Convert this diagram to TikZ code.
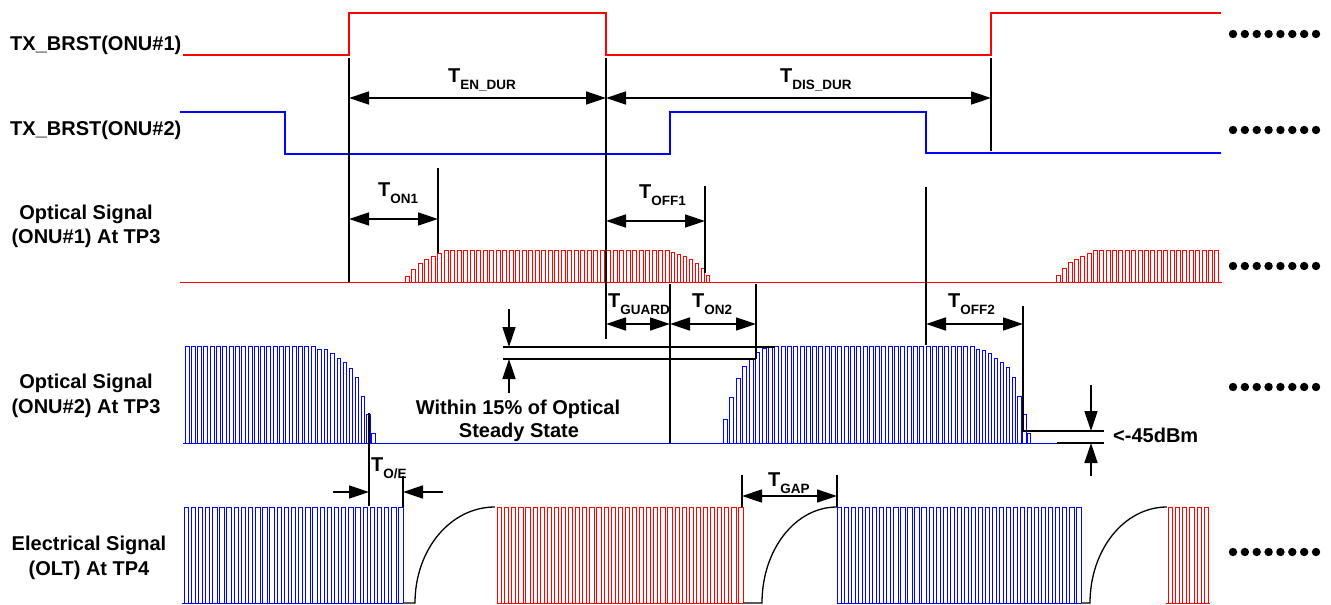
\documentclass[tikz,border=0pt]{standalone}
\usepackage{fontspec}
\setmainfont{Liberation Sans}
\usetikzlibrary{arrows.meta}
\newcommand\Tlab[1]{T\raisebox{-7pt}{\fontsize{13.5}{16}\selectfont #1}}
% uniform pulse train: style, base, top, x0, period, n, width
\newcommand\ptrain[7]{\draw[#1] \foreach \k in {1,...,#6} { ({#4+(\k-1)*#5},#2) -- ({#4+(\k-1)*#5},#3) -- ({#4+(\k-1)*#5+#7},#3) -- ({#4+(\k-1)*#5+#7},#2) };}
% pulse list: style, base, width, list x/top
\newcommand\plist[4]{\draw[#1] \foreach \px/\py in {#4} { (\px,#2) -- (\px,\py) -- ({\px+#3},\py) -- ({\px+#3},#2) };}
\begin{document}
\begin{tikzpicture}[x=1pt,y=-1pt,
  sig/.style={line width=1.6pt},
  pls/.style={line width=1pt},
  guide/.style={line width=1.5pt,black},
  dim/.style={line width=1.5pt,{Triangle[length=20pt,width=13pt]}-{Triangle[length=20pt,width=13pt]}},
  tipa/.style={line width=1.5pt,-{Triangle[length=20pt,width=13pt]}},
  lab/.style={font=\fontsize{20}{24}\selectfont\bfseries, inner sep=0pt},
]
\useasboundingbox (0,0) rectangle (1331,605);

% ---------- row labels ----------
\node[lab,anchor=base west] (l1) at (10,50) {TX\_BRST(ONU\#1)};
\node[lab,anchor=base west] (l2) at (10,135) {TX\_BRST(ONU\#2)};
\node[lab,anchor=base] (l3a) at (86,219) {Optical Signal};
\node[lab,anchor=base] (l3b) at (86,243) {(ONU\#1) At TP3};
\node[lab,anchor=base] (l4a) at (86,388) {Optical Signal};
\node[lab,anchor=base] (l4b) at (86,413) {(ONU\#2) At TP3};
\node[lab,anchor=base] (l5a) at (89,550) {Electrical Signal};
\node[lab,anchor=base] (l5b) at (89,575) {(OLT) At TP4};

% ---------- TX_BRST signals ----------
\draw[sig,red] (183,55) -- (349,55) -- (349,13) -- (606,13) -- (606,55) -- (991,55) -- (991,13) -- (1221,13);
\draw[sig,blue] (180,112) -- (285,112) -- (285,154) -- (670,154) -- (670,112) -- (926,112) -- (926,153) -- (1221,153);

% ---------- optical ONU#1 (red) ----------
\draw[pls,red] (180,282) -- (1222,282);
\plist{pls,red}{282}{4}{405/276,411.5/269,418/263,424.5/259,431/256,437.5/253}
\ptrain{pls,red}{282}{250}{444}{6.5}{35}{4}
\plist{pls,red}{282}{3.6}{671/252,677/254,683/256,689/259,695/263,701/268,706/275}
\plist{pls,red}{282}{4}{1056/275,1062.2/268,1068.4/262,1074.6/259,1080.8/256,1087/253}
\ptrain{pls,red}{282}{250}{1093.2}{6.4}{20}{4}

% ---------- optical ONU#2 (blue) ----------
\draw[pls,blue] (183,443) -- (1060,443);
\ptrain{pls,blue}{443}{346}{185}{6.3}{21}{4}
\plist{pls,blue}{443}{3.5}{317.5/349,324/349,330.5/353,337/358,343/362,349/368,355/377,361/396,366.5/414,371.5/433}
\plist{pls,blue}{443}{4}{723/419,729.5/397,736/378,742.5/366,749/359,755.5/352,762/348}
\ptrain{pls,blue}{443}{346}{768.5}{6.3}{33}{4}
\plist{pls,blue}{443}{3.5}{976/349,982/350,988/353,994/358,1000/362,1006/367,1012/377,1017.5/396,1022.5/414,1027/433}

% ---------- electrical (OLT) ----------
\draw[pls,blue] (182,603) -- (403,603);
\ptrain{pls,blue}{603}{507}{184}{7.16}{31}{4.4}
\draw[pls,red] (497,603) -- (743,603);
\ptrain{pls,red}{603}{507}{497.5}{7.1}{35}{4.2}
\draw[pls,blue] (837,603) -- (1081,603);
\ptrain{pls,blue}{603}{507}{837.5}{7.04}{35}{4.2}
\draw[pls,red] (1166,603) -- (1210,603);
\ptrain{pls,red}{603}{507}{1168}{7.3}{6}{4.2}
\draw[guide,line width=1.3pt] (403,603) -- (415,603) .. controls (415,550) and (450,507) .. (495,507);
\draw[guide,line width=1.3pt] (743,603) -- (762,603) .. controls (762,550) and (795,507) .. (837,507);
\draw[guide,line width=1.3pt] (1081,603) -- (1090,603) .. controls (1090,550) and (1124,507) .. (1167,507);

% ---------- guide lines ----------
\draw[guide] (349,58) -- (349,282);
\draw[guide] (606,58) -- (606,339);
\draw[guide] (991,58) -- (991,151);
\draw[guide] (438,168) -- (438,253);
\draw[guide] (705,186) -- (705,273);
\draw[guide] (670,284) -- (670,443);
\draw[guide] (756,284) -- (756,359);
\draw[guide] (926,187) -- (926,345);
\draw[guide] (1023,306) -- (1023,431) -- (1104,431);
\draw[guide] (1057,443) -- (1104,443);
\draw[guide] (503,347) -- (775,347);
\draw[guide] (503,359) -- (756,359);
\draw[guide] (369,413) -- (369,506);
\draw[guide] (403,476) -- (403,507);
\draw[guide] (742,475) -- (742,507);
\draw[guide] (837,475) -- (837,507);

% ---------- dimension arrows ----------
\draw[dim] (349,98) -- (606,98);
\draw[dim] (606,98) -- (991,98);
\draw[dim] (349,219) -- (438,219);
\draw[dim] (606,221) -- (705,221);
\draw[dim] (606,324) -- (670,324);
\draw[dim] (670,324) -- (756,324);
\draw[dim] (926,324) -- (1023,324);
\draw[dim] (742,496) -- (837,496);
\draw[tipa] (333,492) -- (369,492);
\draw[tipa] (443,492) -- (403,492);
\draw[tipa] (509,309) -- (509,347);
\draw[tipa] (509,393) -- (509,359);
\draw[tipa] (1091,385) -- (1091,431);
\draw[tipa] (1091,476) -- (1091,443);

% ---------- T labels ----------
\node[lab,anchor=base west] (ten) at (448,82) {\Tlab{EN\_DUR}};
\node[lab,anchor=base west] (tdis) at (780,82) {\Tlab{DIS\_DUR}};
\node[lab,anchor=base west] (ton1) at (378,196) {\Tlab{ON1}};
\node[lab,anchor=base west] (toff1) at (639,198) {\Tlab{OFF1}};
\node[lab,anchor=base west] (tguard) at (608,307) {\Tlab{GUARD}};
\node[lab,anchor=base west] (ton2) at (692,307) {\Tlab{ON2}};
\node[lab,anchor=base west] (toff2) at (948,307) {\Tlab{OFF2}};
\node[lab,anchor=base west] (toe) at (371,471) {\Tlab{O/E}};
\node[lab,anchor=base west] (tgap) at (768,486) {\Tlab{GAP}};

% ---------- other texts ----------
\node[lab,anchor=base] (w1) at (518,414) {Within 15\% of Optical};
\node[lab,anchor=base] (w2) at (519,437) {Steady State};
\node[lab,anchor=base west] (dbm) at (1113,442) {<-45dBm};

% ---------- continuation dots ----------
\foreach \yy in {34,130,266,387,552}
  \foreach \i in {0,...,7}
    \fill ({1233+\i*11.86},\yy) circle[radius=4.2pt];
\end{tikzpicture}
\end{document}
